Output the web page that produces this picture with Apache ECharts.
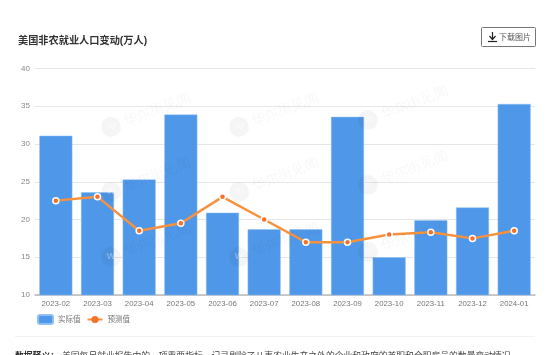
<!DOCTYPE html>
<html>
  <head>
    <meta charset="utf-8">
    <title>美国非农就业人口变动</title>
    <style>
      html, body { margin: 0; padding: 0; background: #fff; overflow: hidden; }
      #main { width: 550px; height: 355px; }
    </style>
    <script src="https://cdn.jsdelivr.net/npm/echarts@6/dist/echarts.min.js"></script>
  </head>
  <body>
    <div id="main"></div>
    <script>
      const months = ['2023-02','2023-03','2023-04','2023-05','2023-06','2023-07','2023-08','2023-09','2023-10','2023-11','2023-12','2024-01'];
      const actual = [31.1,23.6,25.3,33.9,20.9,18.7,18.7,33.6,15.0,19.9,21.6,35.3];
      const forecast = [22.5,23.0,18.5,19.5,23.0,20.0,17.0,17.0,18.0,18.3,17.5,18.5];
      const yTicks = [10,15,20,25,30,35,40];

      const FONT = '"Liberation Sans", "Noto Sans CJK SC", sans-serif';
      const chart = echarts.init(document.getElementById('main'));

      // 水印
      const marks = [];
      [[125,123],[253,123],[382,116],[125,188],[253,188],[382,181],[125,253],[253,253],[382,248]].forEach(function (p) {
        marks.push({
          type: 'circle', silent: true, z: 10,
          shape: { cx: p[0] - 14, cy: p[1] + 4, r: 10 },
          style: { fill: 'rgba(0,0,0,0.04)' }
        });
        marks.push({
          type: 'text', silent: true, z: 10, x: p[0] - 14, y: p[1] + 4,
          style: { text: 'W', font: 'bold 9px "Liberation Sans"', fill: 'rgba(255,255,255,0.3)', textAlign: 'center', textVerticalAlign: 'middle' }
        });
        marks.push({
          type: 'text', silent: true, z: 10, x: p[0], y: p[1], rotation: 0.37,
          style: { text: '华尔街见闻', font: '14px serif', fill: 'rgba(0,0,0,0.04)', textVerticalAlign: 'middle' }
        });
      });

      chart.setOption({
        animation: false,
        textStyle: { fontFamily: FONT },
        title: {
          text: '美国非农就业人口变动(万人)',
          left: 13, top: 31,
          textStyle: { fontSize: 10.2, fontWeight: 'bold', color: '#333', fontFamily: FONT }
        },
        grid: { left: 35, right: 15, top: 68.5, height: 226.5 },
        legend: {
          left: 32, top: 309,
          itemWidth: 15, itemHeight: 9, itemGap: 6,
          textStyle: { fontSize: 7.5, color: '#777', fontFamily: FONT },
          data: [
            { name: '实际值' },
            { name: '预测值', itemStyle: { color: '#f7702a', borderWidth: 0 }, symbolSize: 7 }
          ]
        },
        xAxis: {
          type: 'category',
          data: months,
          axisTick: { show: false },
          axisLine: { lineStyle: { color: '#bbb', width: 1.5 } },
          axisLabel: { fontSize: 7.8, color: '#777', margin: 5, interval: 0 }
        },
        yAxis: {
          type: 'value',
          min: yTicks[0],
          max: yTicks[yTicks.length - 1],
          interval: 5,
          axisLine: { show: false },
          axisTick: { show: false },
          axisLabel: { fontSize: 8, color: '#888', margin: 5 },
          splitLine: { lineStyle: { color: '#e6e6e6', width: 1 } }
        },
        series: [
          {
            name: '实际值',
            type: 'bar',
            data: actual,
            barWidth: 33,
            itemStyle: { color: '#4f97e8', borderColor: '#8fc0f5', borderWidth: 0.5 }
          },
          {
            name: '预测值',
            type: 'line',
            data: forecast,
            symbol: 'circle',
            symbolSize: 6,
            lineStyle: { color: '#f8913d', width: 2.5 },
            itemStyle: { color: '#f7702a', borderColor: '#fff', borderWidth: 1.5 }
          }
        ],
        graphic: marks.concat([
          {
            type: 'rect', silent: true,
            shape: { x: 481.5, y: 27.5, width: 54, height: 19, r: 1 },
            style: { fill: '#fff', stroke: '#777', lineWidth: 1 }
          },
          {
            type: 'text', silent: true, x: 499, y: 37,
            style: { text: '下载图片', font: '8px "Noto Sans CJK SC"', fill: '#555', textVerticalAlign: 'middle' }
          },
          {
            type: 'polyline', silent: true,
            shape: { points: [[492.5,32],[492.5,39]] },
            style: { stroke: '#222', lineWidth: 1.2, fill: 'none' }
          },
          {
            type: 'polyline', silent: true,
            shape: { points: [[489.5,36],[492.5,39.5],[495.5,36]] },
            style: { stroke: '#222', lineWidth: 1.2, fill: 'none' }
          },
          {
            type: 'polyline', silent: true,
            shape: { points: [[488,41.5],[497,41.5]] },
            style: { stroke: '#222', lineWidth: 1.2, fill: 'none' }
          },
          {
            type: 'polyline', silent: true,
            shape: { points: [[15,336.5],[535,336.5]] },
            style: { stroke: '#f2f2f2', lineWidth: 1, fill: 'none' }
          },
          {
            type: 'text', silent: true, x: 15, y: 351,
            style: { text: '数据释义：', font: 'bold 8.8px "Noto Sans CJK SC"', fill: '#333' }
          },
          {
            type: 'text', silent: true, x: 62, y: 351,
            style: { text: '美国每月就业报告中的一项重要指标，记录剔除了从事农业生产之外的企业和政府的兼职和全职雇员的数量变动情况', font: '8.8px "Noto Sans CJK SC"', fill: '#444' }
          }
        ])
      });
    </script>
  </body>
</html>
